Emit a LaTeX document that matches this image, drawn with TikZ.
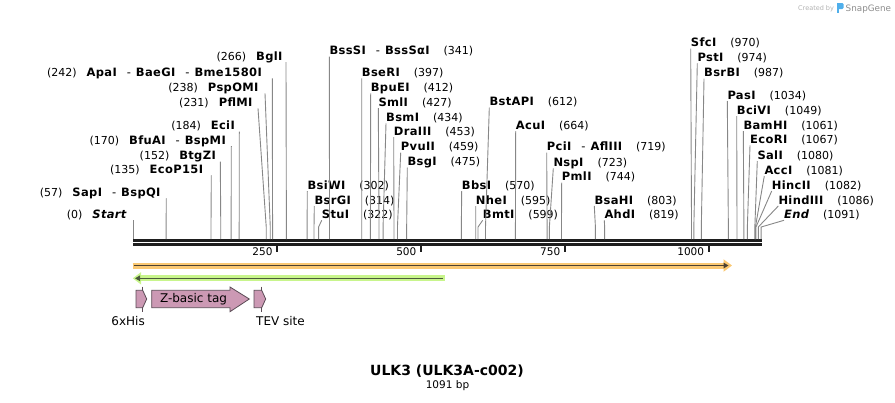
\documentclass[tikz,border=0pt]{standalone}
\usepackage{fontspec}
\setmainfont{DejaVu Sans}
\newfontfamily\enzfont{DejaVu Sans}[LetterSpace=3]
\usetikzlibrary{arrows.meta}
\definecolor{sitegray}{RGB}{135,135,135}
\definecolor{bbcol}{RGB}{30,30,30}
\definecolor{orfglow}{RGB}{250,200,115}
\definecolor{orfdark}{RGB}{75,65,50}
\definecolor{grnglow}{RGB}{200,245,140}
\definecolor{grndark}{RGB}{75,90,60}
\definecolor{featfill}{RGB}{204,153,180}
\definecolor{featedge}{RGB}{90,75,85}
\definecolor{sglogo}{RGB}{80,175,235}
\newcommand{\enz}[1]{{\enzfont\bfseries\fontsize{11.5}{13}\selectfont #1}}
\newcommand{\dsh}{\hspace{10pt}{\mdseries -}\hspace{5pt}}
\newcommand{\bpx}[1]{133.3+0.5755*#1}
% site with its label left of the line
\newcommand{\lsite}[6]{%
    \node[sitelbl,anchor=base east] (#1) at (#3,#2+4) {(#5)\hspace{10pt}\enz{#6}};
    \coordinate (#1t) at (#4,#2+6);
    \coordinate (#1b) at (\bpx{#5},239);
    \draw[siteline] (#1t) -- ([yshift=12pt]#1b) -- (#1b);
}
% site with its label right of the line
\newcommand{\rsite}[5]{%
    \node[sitelbl,anchor=base west] (#1) at (#3,#2+4) {\enz{#5}\hspace{14pt}(#4)};
    \coordinate (#1t) at (#3,#2+6);
    \coordinate (#1b) at (\bpx{#4},239);
    \draw[siteline] (#1t) -- ([yshift=12pt]#1b) -- (#1b);
}

\begin{document}
\begin{tikzpicture}[x=1pt,y=-1pt,
    sitelbl/.style={inner sep=0pt,font=\fontsize{11}{13}\selectfont},
    siteline/.style={draw=sitegray,line width=0.9pt},
    bbline/.style={draw=bbcol,line width=2.5pt},
    tickmark/.style={draw=bbcol,line width=1.5pt},
    ticklbl/.style={inner sep=0pt,anchor=base east,font=\fontsize{10.5}{12}\selectfont},
    feat/.style={draw=featedge,fill=featfill,line width=0.8pt,line join=miter},
    featlbl/.style={inner sep=0pt,font=\fontsize{12}{14}\selectfont},
    ]
    \useasboundingbox (0,0) rectangle (895,402);

    \node[inner sep=0pt,anchor=base west,text=black!30,font=\fontsize{6.5}{8}\selectfont] (made) at (798,10) {Created by};
    \fill[sglogo] (837,3) rectangle (838.6,13);
    \fill[sglogo,rounded corners=1.2pt] (837,3) rectangle (843.5,9);
    \node[inner sep=0pt,anchor=base west,text=black!45,font=\fontsize{8.8}{10}\selectfont] (sg) at (845.5,11) {SnapGene};

    % sequence line
    \draw[bbline] (133.3,240.3) -- (762,240.3);
    \draw[bbline] (133.3,244.5) -- (762,244.5);
    \draw[tickmark] (\bpx{250},245.7) -- ++(0,6);
    \node[ticklbl] (t250) at (\bpx{250}-4.5,255.5) {250};
    \draw[tickmark] (\bpx{500},245.7) -- ++(0,6);
    \node[ticklbl] (t500) at (\bpx{500}-4.5,255.5) {500};
    \draw[tickmark] (\bpx{750},245.7) -- ++(0,6);
    \node[ticklbl] (t750) at (\bpx{750}-4.5,255.5) {750};
    \draw[tickmark] (\bpx{1000},245.7) -- ++(0,6);
    \node[ticklbl] (t1000) at (\bpx{1000}-4.5,255.5) {1000};

    \lsite{start}{214.3}{126.7}{133.3}{0}{\itshape Start}
    \lsite{sap}{192.3}{160.7}{166.3}{57}{SapI\dsh BspQI}
    \lsite{ecop}{169.3}{203.3}{211.3}{135}{EcoP15I}
    \lsite{btgz}{155.7}{216}{220.3}{152}{BtgZI}
    \lsite{bfua}{140}{226}{231.3}{170}{BfuAI\dsh BspMI}
    \lsite{eci}{125.7}{235}{239.3}{184}{EciI}
    \lsite{pflm}{102.3}{252.7}{258}{231}{PflMI}
    \lsite{pspo}{87.3}{258.7}{265}{238}{PspOMI}
    \lsite{apa}{72.3}{262}{272.3}{242}{ApaI\dsh BaeGI\dsh Bme1580I}
    \lsite{bgl}{56}{282.7}{286}{266}{BglI}

    \rsite{bsiw}{185}{307.3}{302}{BsiWI}
    \rsite{bsrg}{200}{314.3}{314}{BsrGI}
    \rsite{stu}{214.3}{321.7}{322}{StuI}
    \rsite{bsss}{50.7}{329.3}{341}{BssSI\dsh BssSαI}
    \rsite{bser}{72.3}{361.7}{397}{BseRI}
    \rsite{bpue}{87.3}{370.7}{412}{BpuEI}
    \rsite{sml}{102}{378.3}{427}{SmlI}
    \rsite{bsm}{117.3}{386}{434}{BsmI}
    \rsite{dra}{131}{393.7}{453}{DraIII}
    \rsite{pvu}{146.7}{400.7}{459}{PvuII}
    \rsite{bsg}{161.7}{407.3}{475}{BsgI}
    \rsite{bbs}{185}{461.7}{570}{BbsI}
    \rsite{nhe}{200}{475.7}{595}{NheI}
    \rsite{bmt}{214.3}{482.7}{599}{BmtI}
    \rsite{bstap}{101.7}{489.3}{612}{BstAPI}
    \rsite{acu}{125}{515.7}{664}{AcuI}
    \rsite{pci}{146.7}{546.7}{719}{PciI\dsh AflIII}
    \rsite{nsp}{162.3}{553.3}{723}{NspI}
    \rsite{pml}{176.7}{561.7}{744}{PmlI}
    \rsite{bsah}{200}{594.3}{803}{BsaHI}
    \rsite{ahd}{214.3}{604.3}{819}{AhdI}
    \rsite{sfc}{42.7}{690.7}{970}{SfcI}
    \rsite{pst}{57.3}{697.3}{974}{PstI}
    \rsite{bsrb}{72.7}{704}{987}{BsrBI}
    \rsite{pas}{95}{727.3}{1034}{PasI}
    \rsite{bciv}{110}{736.7}{1049}{BciVI}
    \rsite{bam}{125}{743.3}{1061}{BamHI}
    \rsite{ecor}{139.3}{750}{1067}{EcoRI}
    \rsite{sal}{155}{757.3}{1080}{SalI}
    \rsite{acc}{170}{764.3}{1081}{AccI}
    \rsite{hinc}{185}{771.7}{1082}{HincII}
    \rsite{hind}{200}{778.3}{1086}{HindIII}
    \rsite{end}{214.3}{784}{1091}{\itshape End}

    % open reading frames
    \draw[orfglow,line width=6pt,-{Triangle[length=8.5pt,width=12pt]}] (132.7,265.5) -- (732,265.5);
    \draw[orfdark,line width=1.6pt,-{Triangle[length=5pt,width=5.5pt]}] (133.5,265.5) -- (728.5,265.5);
    \draw[grnglow,line width=6pt,{Triangle[length=8.5pt,width=12pt]}-] (132.7,278.3) -- (444.5,278.3);
    \draw[grndark,line width=1.6pt,{Triangle[length=5pt,width=5.5pt]}-] (135,278.3) -- (443,278.3);

    % features
    \draw[featedge,line width=0.8pt] (142,286.7) -- (142,312);
    \draw[featedge,line width=0.8pt] (261.7,286.7) -- (261.7,312);
    \draw[feat] (136,290.3) -- (142.7,290.3) -- (146.7,299) -- (142.7,307.7) -- (136,307.7) -- cycle;
    \draw[feat] (151.7,290.3) -- (230,290.3) -- (230,287) -- (249.3,299) -- (230,311.7) -- (230,307.7) -- (151.7,307.7) -- cycle;
    \draw[feat] (254,290.3) -- (261.7,290.3) -- (265.7,299) -- (261.7,307.7) -- (254,307.7) -- cycle;
    \node[featlbl,anchor=base] (zbas) at (193.5,302.3) {Z-basic tag};
    \node[featlbl,anchor=base east] (his) at (145,325.4) {6xHis};
    \node[featlbl,anchor=base west] (tev) at (256,325.4) {TEV site};

    \node[inner sep=0pt,font=\bfseries\fontsize{14}{16}\selectfont] (title) at (447,371) {ULK3 (ULK3A-c002)};
    \node[inner sep=0pt,font=\fontsize{10.5}{12}\selectfont] (len) at (447.5,385.5) {1091 bp};
\end{tikzpicture}
\end{document}
